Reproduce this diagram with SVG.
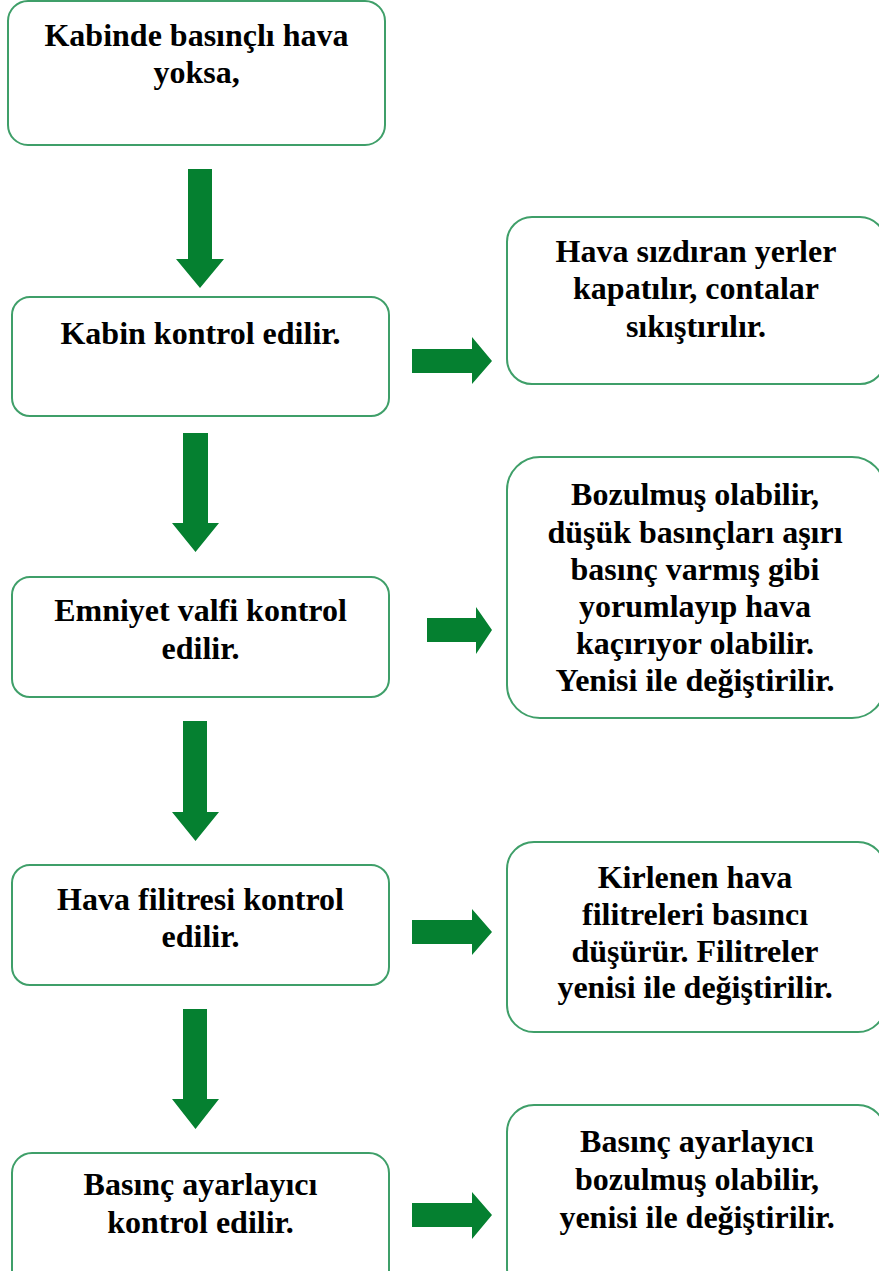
<svg xmlns="http://www.w3.org/2000/svg" width="879" height="1271" viewBox="0 0 879 1271">
<style>
.box{fill:#fff;stroke:#3f9f69;stroke-width:2}
.arr{fill:#058030}
text{font-family:"Liberation Serif","Times New Roman",serif;font-weight:bold;font-size:32px;fill:#000;text-anchor:middle}
</style>
<rect width="879" height="1271" fill="#fff"/>
<g id="connectors">
<path class="arr" d="M188,169 H212 V259 H224 L200,288 L176,259 H188 Z"/>
<path class="arr" d="M183,433 H208 V523 H219 L195.5,552 L172,523 H183 Z"/>
<path class="arr" d="M183,721 H207 V812 H219 L195.5,841 L172,812 H183 Z"/>
<path class="arr" d="M183,1009 H207 V1099 H219 L195.5,1129 L172,1099 H183 Z"/>
<path class="arr" d="M412,349 H472 V337 L492,361 L472,384 V373 H412 Z"/>
<path class="arr" d="M427,618 H476 V607 L492,630 L476,654 V642 H427 Z"/>
<path class="arr" d="M412,920 H472 V909 L492,932 L472,955 V944 H412 Z"/>
<path class="arr" d="M412,1203 H472 V1192 L492,1215 L472,1239 V1227 H412 Z"/>
</g>
<g id="n1"><rect class="box" x="8" y="1" width="377" height="144" rx="20"/>
<text x="196.5" y="46">Kabinde basınçlı hava</text><text x="196.5" y="83">yoksa,</text></g>
<g id="n2"><rect class="box" x="12" y="297" width="377" height="119" rx="18"/>
<text x="200.5" y="344">Kabin kontrol edilir.</text></g>
<g id="n3"><rect class="box" x="12" y="577" width="377" height="120" rx="18"/>
<text x="200.5" y="621">Emniyet valfi kontrol</text><text x="200.5" y="659">edilir.</text></g>
<g id="n4"><rect class="box" x="12" y="865" width="377" height="120" rx="18"/>
<text x="200.5" y="910">Hava filitresi kontrol</text><text x="200.5" y="947">edilir.</text></g>
<g id="n5"><rect class="box" x="12" y="1153" width="377" height="140" rx="20"/>
<text x="200.5" y="1195">Basınç ayarlayıcı</text><text x="200.5" y="1233">kontrol edilir.</text></g>
<g id="r1"><rect class="box" x="507" y="217" width="378" height="167" rx="25"/>
<text x="696" y="262">Hava sızdıran yerler</text><text x="696" y="299">kapatılır, contalar</text><text x="696" y="337">sıkıştırılır.</text></g>
<g id="r2"><rect class="box" x="507" y="457" width="378" height="261" rx="33"/>
<text x="695" y="505">Bozulmuş olabilir,</text><text x="695" y="543">düşük basınçları aşırı</text><text x="695" y="580">basınç varmış gibi</text><text x="695" y="617">yorumlayıp hava</text><text x="695" y="654">kaçırıyor olabilir.</text><text x="695" y="691">Yenisi ile değiştirilir.</text></g>
<g id="r3"><rect class="box" x="507" y="842" width="378" height="190" rx="27"/>
<text x="695" y="888">Kirlenen hava</text><text x="695" y="925">filitreleri basıncı</text><text x="695" y="962">düşürür. Filitreler</text><text x="695" y="998">yenisi ile değiştirilir.</text></g>
<g id="r4"><rect class="box" x="507" y="1105" width="378" height="190" rx="27"/>
<text x="697" y="1152">Basınç ayarlayıcı</text><text x="697" y="1190">bozulmuş olabilir,</text><text x="697" y="1228">yenisi ile değiştirilir.</text></g>
</svg>
